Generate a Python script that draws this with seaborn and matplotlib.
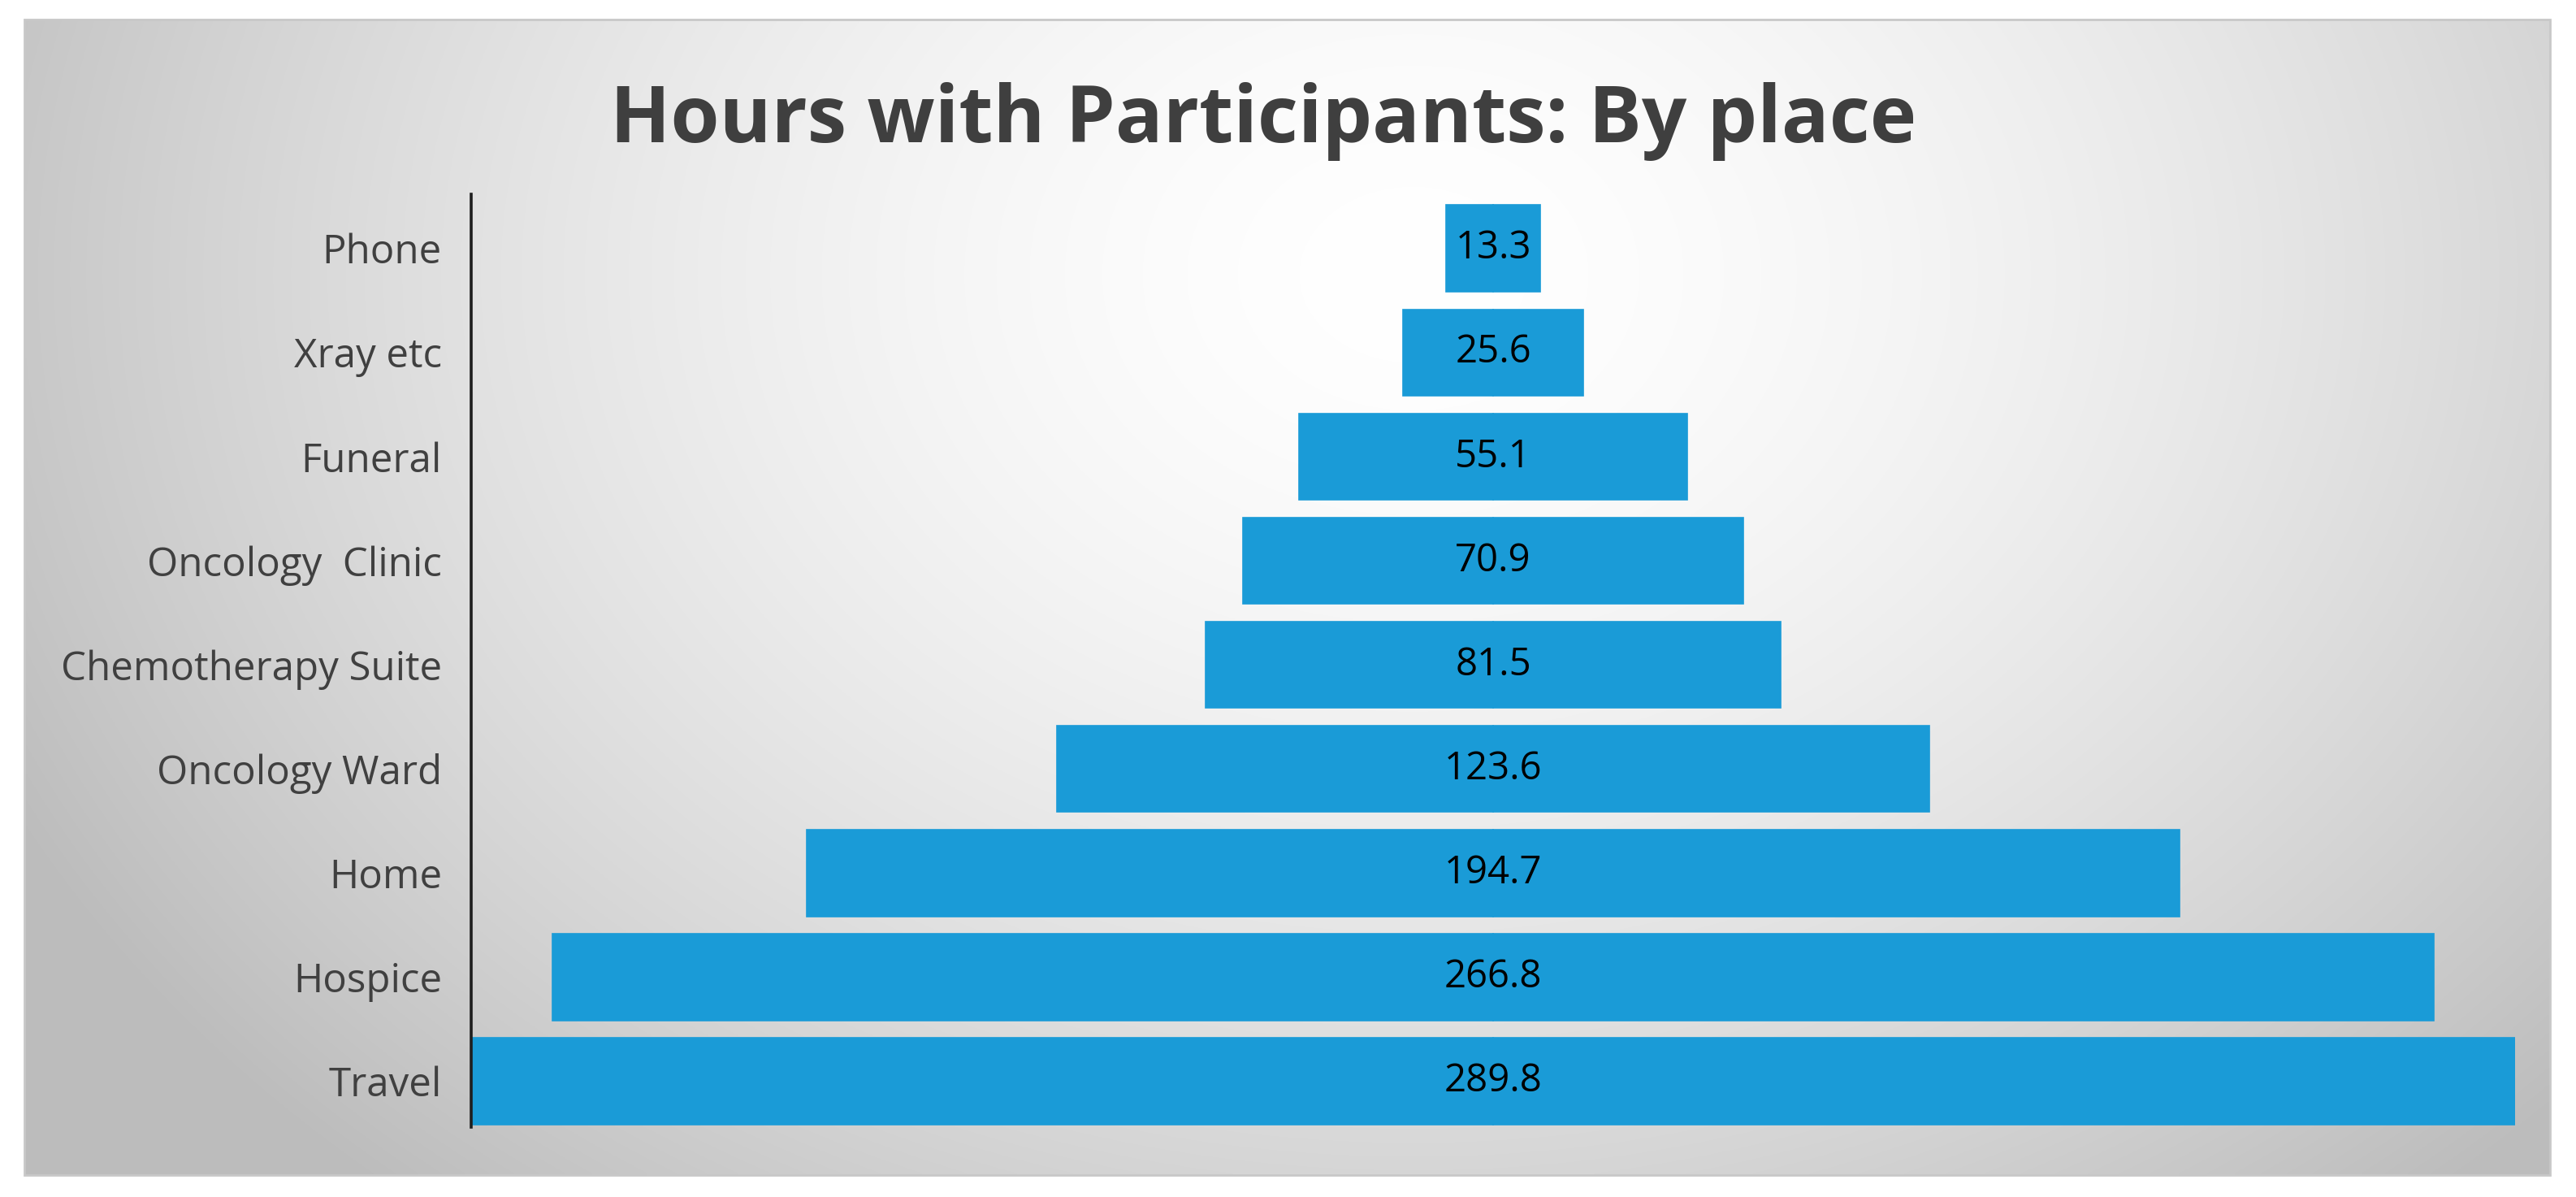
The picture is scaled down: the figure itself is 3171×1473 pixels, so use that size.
import numpy as np
import pandas as pd
import matplotlib
matplotlib.use("Agg")
import matplotlib.pyplot as plt
from matplotlib.patches import Rectangle
import seaborn as sns

# data (top to bottom)
places = ["Phone", "Xray etc", "Funeral", "Oncology  Clinic", "Chemotherapy Suite",
          "Oncology Ward", "Home", "Hospice", "Travel"]
hours = [13.3, 25.6, 55.1, 70.9, 81.5, 123.6, 194.7, 266.8, 289.8]
title = "Hours with Participants: By place"

sns.set_theme(style="white")
plt.rcParams['font.family'] = ['Open Sans', 'DejaVu Sans']

W, H = 3171, 1473
fig = plt.figure(figsize=(W / 100, H / 100), dpi=100)
fig.patch.set_facecolor("white")

# panel with radial grey gradient
px0, py0, px1, py1 = 30, 24, 3139, 1446
bg = fig.add_axes([px0 / W, 1 - py1 / H, (px1 - px0) / W, (py1 - py0) / H])
gx, gy = np.meshgrid(np.linspace(0, 1, 600), np.linspace(0, 1, 300))
d = np.sqrt(((gx - 0.55) / 0.62) ** 2 + ((gy - 0.22) / 1.05) ** 2)
shade = 1 - 0.26 * np.clip(d, 0, 1) ** 1.6
bg.imshow(np.dstack([shade] * 3), aspect="auto", extent=(0, 1, 1, 0), interpolation="bilinear")
bg.set_xlim(0, 1)
bg.set_ylim(1, 0)
bg.axis("off")
bg.add_patch(Rectangle((0, 0), 1, 1, fill=False, edgecolor="#c8c8c8", linewidth=2,
                       transform=bg.transAxes, clip_on=False))

# main axes
ax0, ay0, ax1, ay1 = 580, 239, 3096, 1387
ax = fig.add_axes([ax0 / W, 1 - ay1 / H, (ax1 - ax0) / W, (ay1 - ay0) / H])
ax.patch.set_alpha(0)

df = pd.DataFrame({"place": places, "hours": hours})
df["right"] = df["hours"] / 2
df["left"] = -df["hours"] / 2

# two halves -> centred funnel bars
bar_color = "#1a9bd7"
for col in ["right", "left"]:
    sns.barplot(data=df, x=col, y="place", ax=ax, color=bar_color, saturation=1,
                width=0.83, edgecolor=bar_color, linewidth=1.2, orient="h")

for i, v in enumerate(hours):
    ax.text(0, i, f"{v}", ha="center", va="center", fontsize=34, color="black")

half = max(hours) / 2
ax.set_xlim(-half, half)
ax.set_ylim(len(places) - 1 + 0.44, -0.52)
ax.set_xlabel("")
ax.set_ylabel("")
ax.set_xticks([])
ax.tick_params(axis="y", length=0, pad=26, labelsize=35.5, labelcolor="#404040")
for s in ["top", "right", "bottom"]:
    ax.spines[s].set_visible(False)
ax.spines["left"].set_color("#1e1e1e")
ax.spines["left"].set_linewidth(2.6)

fig.text(0.4905, 1 - 150 / H, title, ha="center", va="center", fontsize=70,
         fontweight="bold", color="#3f3f3f")

fig.savefig("out.png", dpi=100, facecolor="white")
